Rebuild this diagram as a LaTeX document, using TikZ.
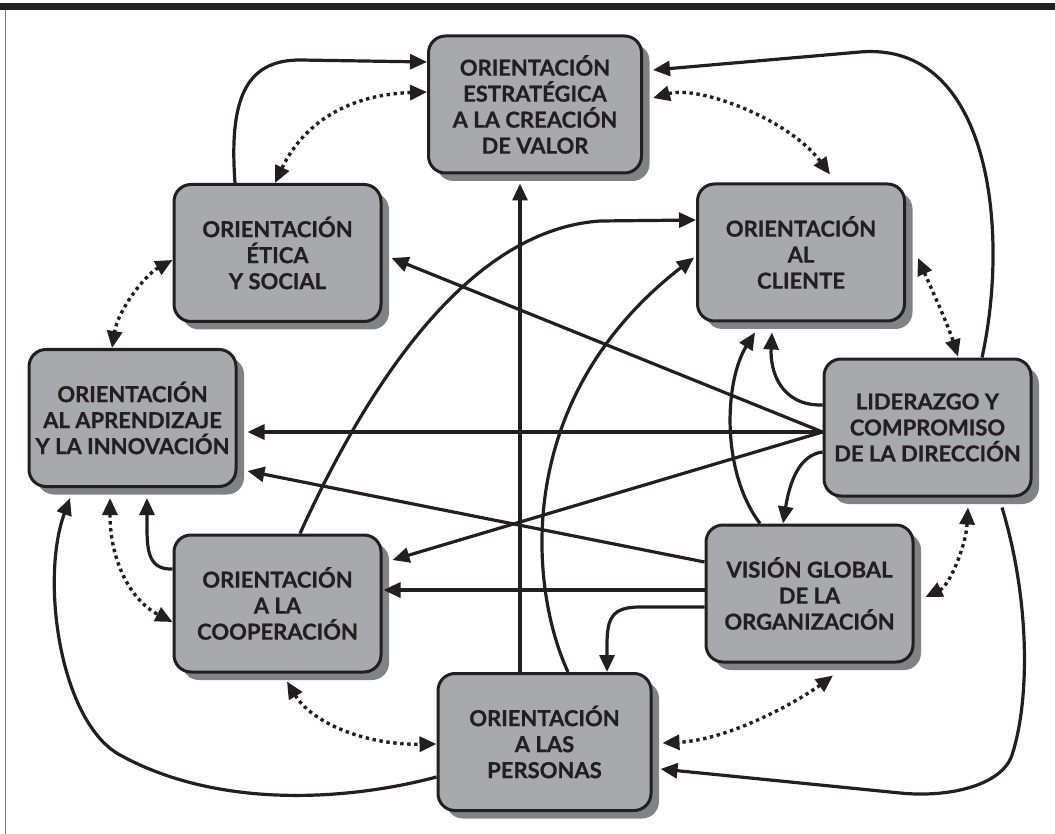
\documentclass[tikz,border=0pt]{standalone}
\usepackage{fontspec}
\setmainfont{Lato}[BoldFeatures={FakeBold=0.8}]
\usepackage{tikz}
\usetikzlibrary{arrows.meta, shadows}
\definecolor{tinta}{HTML}{231F20}
\definecolor{gris}{HTML}{A7A9AC}
\definecolor{sombra}{HTML}{808285}

\begin{document}
\begin{tikzpicture}[x=1pt, y=-1pt,
  caja/.style={draw=tinta, line width=3pt, fill=gris, rounded corners=17pt,
    minimum width=207pt, minimum height=137pt, align=center, text=tinta,
    font=\fontsize{22}{26}\selectfont\bfseries,
    drop shadow={shadow xshift=8pt, shadow yshift=-8pt, fill=sombra, opacity=1}},
  flecha/.style={draw=tinta, line width=3.2pt, -{Triangle[length=17pt,width=15pt]}},
  doble/.style={draw=tinta, line width=3.4pt, dash pattern=on 3.4pt off 3.6pt,
    {Triangle[length=17pt,width=15pt]}-{Triangle[length=17pt,width=15pt]}}]
  \path[use as bounding box, fill=white] (0,0) rectangle (1055,834);
  % frame
  \fill[tinta] (0,3.5) rectangle (1055,10.5);
  \draw[gray, line width=1.4pt] (5.5,10.5) -- (5.5,834);
  % boxes
  \node[caja, minimum width=213pt] (estr) at (535,104.5) {ORIENTACIÓN\\ESTRATÉGICA\\A LA CREACIÓN\\DE VALOR};
  \node[caja] (etica) at (277.5,253) {ORIENTACIÓN\\ÉTICA\\Y SOCIAL};
  \node[caja] (cliente) at (801,252.5) {ORIENTACIÓN\\AL\\CLIENTE};
  \node[caja] (aprend) at (132.5,418) {ORIENTACIÓN\\AL APRENDIZAJE\\Y LA INNOVACIÓN};
  \node[caja] (lider) at (927.5,427.5) {LIDERAZGO Y\\COMPROMISO\\DE LA DIRECCIÓN};
  \node[caja] (coop) at (277.5,603.5) {ORIENTACIÓN\\A LA\\COOPERACIÓN};
  \node[caja] (vision) at (809.5,593.5) {VISIÓN GLOBAL\\DE LA\\ORGANIZACIÓN};
  \node[caja, minimum width=213pt] (personas) at (544.5,742) {ORIENTACIÓN\\A LAS\\PERSONAS};
  % solid arrows
  \draw[flecha] ([shift={(-42.5,0)}]etica.north) .. controls (229,100) and (245,60) .. (300,60) -- ([shift={(0,-42.5)}]estr.west);
  \draw[flecha] ([shift={(54.5,0)}]lider.north) .. controls (1010,230) and (990,41) .. (860,52) -- ([shift={(10,-34.5)}]estr.east);
  \draw[flecha] ([shift={(-24.5,0)}]personas.north) -- ([shift={(-15,9)}]estr.south);
  \draw[flecha] ([shift={(22.5,0)}]coop.north) .. controls (370,380) and (470,230) .. (600,221) -- ([shift={(0,-32.5)}]cliente.west);
  \draw[flecha] ([shift={(23.5,0)}]personas.north) .. controls (530,590) and (510,400) .. ([shift={(-2,5)}]cliente.west);
  \draw[flecha] ([shift={(-49.5,0)}]vision.north) .. controls (720,470) and (725,380) .. ([shift={(-46,10)}]cliente.south);
  \draw[flecha] ([shift={(0,-22.5)}]lider.west) .. controls (780,406) and (770,370) .. ([shift={(-29,10)}]cliente.south);
  \draw[flecha] ([shift={(0,4.5)}]lider.west) -- ([shift={(9,5)}]etica.east);
  \draw[flecha] ([shift={(0,4.5)}]lider.west) -- ([shift={(10,14)}]aprend.east);
  \draw[flecha] ([shift={(0,4.5)}]lider.west) -- ([shift={(10,-43.5)}]coop.east);
  \draw[flecha] ([shift={(0,24.5)}]lider.west) .. controls (800,455) and (790,480) .. ([shift={(-26.5,0)}]vision.north);
  \draw[flecha] ([shift={(74.5,10)}]lider.south) .. controls (1030,600) and (1030,700) .. (1012,755)
    .. controls (1002,785) and (950,798) .. (900,793) -- ([shift={(8,27)}]personas.east);
  \draw[flecha] ([shift={(0,-31.5)}]vision.west) -- ([shift={(10,53)}]aprend.east);
  \draw[flecha] ([shift={(0,-3.5)}]vision.west) -- ([shift={(1,-13.5)}]coop.east);
  \draw[flecha] ([shift={(0,13.5)}]vision.west) -- (640,607) .. controls (612,607) and (607,618) .. (607,645) -- ([shift={(62.5,0)}]personas.north);
  \draw[flecha] ([shift={(0,35)}]personas.west) .. controls (350,800) and (220,810) .. (120,755)
    .. controls (60,722) and (40,580) .. ([shift={(-62.5,10)}]aprend.south);
  \draw[flecha] ([shift={(0,-34.5)}]coop.west) .. controls (145,570) and (147,545) .. ([shift={(14.5,10)}]aprend.south);
  % dotted arrows
  \draw[doble] ([shift={(0,-12.5)}]estr.west) .. controls (340,95) and (300,130) .. ([shift={(-2.5,0)}]etica.north);
  \draw[doble] ([shift={(10,-6.5)}]estr.east) .. controls (700,85) and (790,120) .. ([shift={(29,-8)}]cliente.north);
  \draw[doble] ([shift={(12,5.5)}]cliente.east) .. controls (932,290) and (948,325) .. ([shift={(30.5,-1)}]lider.north);
  \draw[doble] ([shift={(40.5,10)}]lider.south) .. controls (966,545) and (950,585) .. ([shift={(11,3.5)}]vision.east);
  \draw[doble] ([shift={(23.5,12)}]vision.south) .. controls (800,700) and (730,740) .. ([shift={(10,1)}]personas.east);
  \draw[doble] ([shift={(9.5,8)}]coop.south) .. controls (310,720) and (360,745) .. ([shift={(0,2)}]personas.west);
  \draw[doble] ([shift={(-22.5,10)}]aprend.south) .. controls (110,560) and (130,600) .. ([shift={(0,18.5)}]coop.west);
  \draw[doble] ([shift={(0,7)}]etica.west) .. controls (145,275) and (118,310) .. ([shift={(-20.5,0)}]aprend.north);
\end{tikzpicture}
\end{document}
